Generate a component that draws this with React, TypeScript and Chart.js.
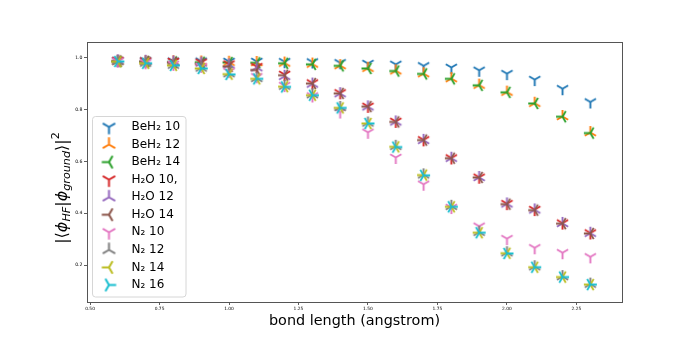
import React, { useEffect, useRef } from "react";
import { Chart, registerables } from "chart.js";

Chart.register(...registerables);

// ---------- data ----------
const bondLengths = [0.6, 0.7, 0.8, 0.9, 1.0, 1.1, 1.2, 1.3, 1.4, 1.5, 1.6, 1.7, 1.8, 1.9, 2.0, 2.1, 2.2, 2.3];

const beh2_10 = [0.988, 0.987, 0.986, 0.986, 0.985, 0.985, 0.984, 0.983, 0.980, 0.977, 0.974, 0.968, 0.962, 0.951, 0.938, 0.915, 0.880, 0.829];
const beh2_12 = [0.986, 0.985, 0.984, 0.983, 0.982, 0.981, 0.979, 0.975, 0.969, 0.959, 0.949, 0.938, 0.919, 0.894, 0.867, 0.824, 0.773, 0.711];
const beh2_14 = [0.985, 0.984, 0.983, 0.982, 0.981, 0.980, 0.978, 0.974, 0.968, 0.958, 0.948, 0.937, 0.918, 0.893, 0.866, 0.823, 0.772, 0.709];
const h2o_10 = [0.989, 0.987, 0.985, 0.982, 0.975, 0.965, 0.935, 0.902, 0.864, 0.812, 0.754, 0.683, 0.613, 0.539, 0.437, 0.414, 0.362, 0.324];
const h2o_12 = [0.988, 0.986, 0.983, 0.979, 0.972, 0.961, 0.928, 0.898, 0.861, 0.810, 0.752, 0.681, 0.612, 0.538, 0.436, 0.413, 0.361, 0.323];
const h2o_14 = [0.987, 0.985, 0.981, 0.976, 0.966, 0.952, 0.932, 0.900, 0.862, 0.811, 0.752, 0.682, 0.612, 0.538, 0.435, 0.412, 0.360, 0.322];
const n2_10 = [0.986, 0.980, 0.974, 0.966, 0.946, 0.926, 0.892, 0.852, 0.790, 0.712, 0.615, 0.512, 0.422, 0.350, 0.302, 0.267, 0.248, 0.232];
const n2_12 = [0.985, 0.979, 0.971, 0.960, 0.938, 0.920, 0.890, 0.857, 0.808, 0.748, 0.658, 0.548, 0.427, 0.327, 0.248, 0.194, 0.156, 0.127];
const n2_14 = [0.984, 0.978, 0.970, 0.958, 0.936, 0.918, 0.888, 0.855, 0.806, 0.746, 0.656, 0.547, 0.425, 0.325, 0.246, 0.192, 0.154, 0.125];
const n2_16 = [0.985, 0.978, 0.970, 0.958, 0.935, 0.918, 0.887, 0.855, 0.806, 0.746, 0.655, 0.546, 0.425, 0.325, 0.245, 0.192, 0.154, 0.125];

const seriesValues = [beh2_10, beh2_12, beh2_14, h2o_10, h2o_12, h2o_14, n2_10, n2_12, n2_14, n2_16];
const seriesLabels = ["BeH₂ 10", "BeH₂ 12", "BeH₂ 14", "H₂O 10,", "H₂O 12", "H₂O 14", "N₂ 10", "N₂ 12", "N₂ 14", "N₂ 16"];
const seriesColors = ["#1f77b4", "#ff7f0e", "#2ca02c", "#d62728", "#9467bd", "#8c564b", "#e377c2", "#7f7f7f", "#bcbd22", "#17becf"];
const seriesMarkers = ["tri_down", "tri_up", "tri_left", "tri_down", "tri_up", "tri_left", "tri_down", "tri_up", "tri_left", "tri_right"];

const xLabel = "bond length (angstrom)";
const xMin = 0.489;
const xMax = 2.414;
const xStep = 0.25;
const yMin = 0.058;
const yMax = 1.06;
const yStep = 0.2;

const FONT = "'DejaVu Sans', sans-serif";

// ---------- marker images ----------
function makeMarker(kind: string, color: string, r: number, lw: number): HTMLCanvasElement {
  const size = Math.ceil(2 * r + lw + 2);
  const c = document.createElement("canvas");
  c.width = size;
  c.height = size;
  const ctx = c.getContext("2d")!;
  const cx = size / 2;
  const cy = size / 2;
  const s = 0.8660254;
  let arms: number[][] = [];
  if (kind === "tri_down") arms = [[0, 1], [-s, -0.5], [s, -0.5]];
  else if (kind === "tri_up") arms = [[0, -1], [-s, 0.5], [s, 0.5]];
  else if (kind === "tri_left") arms = [[-1, 0], [0.5, -s], [0.5, s]];
  else arms = [[1, 0], [-0.5, -s], [-0.5, s]];
  ctx.strokeStyle = color;
  ctx.lineWidth = lw;
  ctx.lineCap = "butt";
  ctx.beginPath();
  for (const [dx, dy] of arms) {
    ctx.moveTo(cx, cy);
    ctx.lineTo(cx + dx * r, cy + dy * r);
  }
  ctx.stroke();
  return c;
}

// ---------- y-axis math label ----------
function drawYLabel(ctx: CanvasRenderingContext2D, cx: number, cy: number, s: number) {
  const pieces = [
    { t: "|⟨", it: false, k: 1, dy: 0 },
    { t: "ϕ", it: true, k: 1, dy: 0 },
    { t: "HF", it: true, k: 0.7, dy: 0.22 },
    { t: "|", it: false, k: 1, dy: 0 },
    { t: "ϕ", it: true, k: 1, dy: 0 },
    { t: "ground", it: true, k: 0.7, dy: 0.22 },
    { t: "⟩|", it: false, k: 1, dy: 0 },
    { t: "2", it: false, k: 0.7, dy: -0.45 },
  ];
  ctx.save();
  const font = (p: { it: boolean; k: number }) => `${p.it ? "italic " : ""}${(s * p.k).toFixed(2)}px ${FONT}`;
  let total = 0;
  const widths: number[] = [];
  for (const p of pieces) {
    ctx.font = font(p);
    const w = ctx.measureText(p.t).width;
    widths.push(w);
    total += w;
  }
  ctx.translate(cx, cy);
  ctx.rotate(-Math.PI / 2);
  ctx.fillStyle = "#000";
  ctx.textBaseline = "alphabetic";
  ctx.textAlign = "left";
  let x = -total / 2;
  pieces.forEach((p, i) => {
    ctx.font = font(p);
    ctx.fillText(p.t, x, s * 0.35 + p.dy * s);
    x += widths[i];
  });
  ctx.restore();
}

export default function App() {
  const ref = useRef<HTMLCanvasElement>(null);

  useEffect(() => {
    const canvas = ref.current!;
    const markers = seriesMarkers.map((m, i) => makeMarker(m, seriesColors[i], 6.5, 1.9));
    const legendMarkers = seriesMarkers.map((m, i) => makeMarker(m, seriesColors[i], 7.2, 2));

    const decorPlugin = {
      id: "decor",
      afterDatasetsDraw(chart: any) {
        const { ctx, chartArea } = chart;
        ctx.save();
        ctx.strokeStyle = "#555";
        ctx.lineWidth = 1;
        ctx.strokeRect(
          Math.round(chartArea.left) + 0.5,
          Math.round(chartArea.top) + 0.5,
          Math.round(chartArea.right - chartArea.left),
          Math.round(chartArea.bottom - chartArea.top)
        );
        ctx.restore();
      },
      afterDraw(chart: any) {
        const { ctx } = chart;
        // legend
        const lx = 92.5, ly = 116.5, lw = 93.5, lh = 180.5;
        ctx.save();
        ctx.beginPath();
        const rr = 3;
        ctx.moveTo(lx + rr, ly);
        ctx.lineTo(lx + lw - rr, ly);
        ctx.quadraticCurveTo(lx + lw, ly, lx + lw, ly + rr);
        ctx.lineTo(lx + lw, ly + lh - rr);
        ctx.quadraticCurveTo(lx + lw, ly + lh, lx + lw - rr, ly + lh);
        ctx.lineTo(lx + rr, ly + lh);
        ctx.quadraticCurveTo(lx, ly + lh, lx, ly + lh - rr);
        ctx.lineTo(lx, ly + rr);
        ctx.quadraticCurveTo(lx, ly, lx + rr, ly);
        ctx.closePath();
        ctx.fillStyle = "rgba(255,255,255,0.8)";
        ctx.fill();
        ctx.strokeStyle = "#d6d6d6";
        ctx.lineWidth = 1;
        ctx.stroke();
        ctx.font = `12px ${FONT}`;
        ctx.fillStyle = "#000";
        ctx.textBaseline = "middle";
        ctx.textAlign = "left";
        seriesLabels.forEach((lab, i) => {
          const y = 127 + i * 17.55;
          const m = legendMarkers[i];
          ctx.drawImage(m, 109 - m.width / 2, y - m.height / 2);
          ctx.fillText(lab, 131.5, y);
        });
        ctx.restore();
        // y label
        drawYLabel(ctx, 61, 188, 16);
      },
    };

    const chart = new Chart(canvas, {
      type: "scatter",
      data: {
        datasets: seriesValues.map((vals, i) => ({
          label: seriesLabels[i],
          data: bondLengths.map((x, j) => ({ x, y: vals[j] })),
          pointStyle: markers[i] as any,
          pointRadius: 3,
          pointHoverRadius: 3,
          backgroundColor: seriesColors[i],
          borderColor: seriesColors[i],
          order: seriesValues.length - 1 - i,
        })),
      },
      options: {
        responsive: false,
        animation: false,
        devicePixelRatio: 1,
        events: [],
        layout: { padding: { left: 0, right: 70, top: 42, bottom: 0 } },
        plugins: {
          legend: { display: false },
          tooltip: { enabled: false },
          title: { display: false },
        },
        scales: {
          x: {
            type: "linear",
            position: "bottom",
            min: xMin,
            max: xMax,
            ticks: {
              stepSize: xStep,
              includeBounds: false,
              autoSkip: false,
              maxRotation: 0,
              padding: 1.5,
              color: "#000",
              font: { family: FONT, size: 4.4 },
              callback: (v: any) => Number(v).toFixed(2),
            },
            grid: { drawOnChartArea: false, drawTicks: true, tickLength: 3, color: "#333", lineWidth: 0.8 },
            border: { display: false },
            title: {
              display: true,
              text: xLabel,
              color: "#000",
              font: { family: FONT, size: 14.4 },
              padding: { top: 0, bottom: 16.5 },
            },
            afterFit: (s: any) => {
              s.height = 44;
            },
          },
          y: {
            type: "linear",
            min: yMin,
            max: yMax,
            ticks: {
              stepSize: yStep,
              includeBounds: false,
              autoSkip: false,
              padding: 1.5,
              color: "#000",
              font: { family: FONT, size: 4.6 },
              callback: (v: any) => Number(v).toFixed(1),
            },
            grid: { drawOnChartArea: false, drawTicks: true, tickLength: 3, color: "#333", lineWidth: 0.8 },
            border: { display: false },
            afterFit: (s: any) => {
              s.width = 87;
            },
          },
        },
      } as any,
      plugins: [decorPlugin],
    });
    return () => chart.destroy();
  }, []);

  return (
    <div style={{ position: "absolute", left: 0, top: 0, width: 692, height: 346, background: "#fff" }}>
      <canvas ref={ref} width={692} height={346} style={{ display: "block" }} />
    </div>
  );
}
